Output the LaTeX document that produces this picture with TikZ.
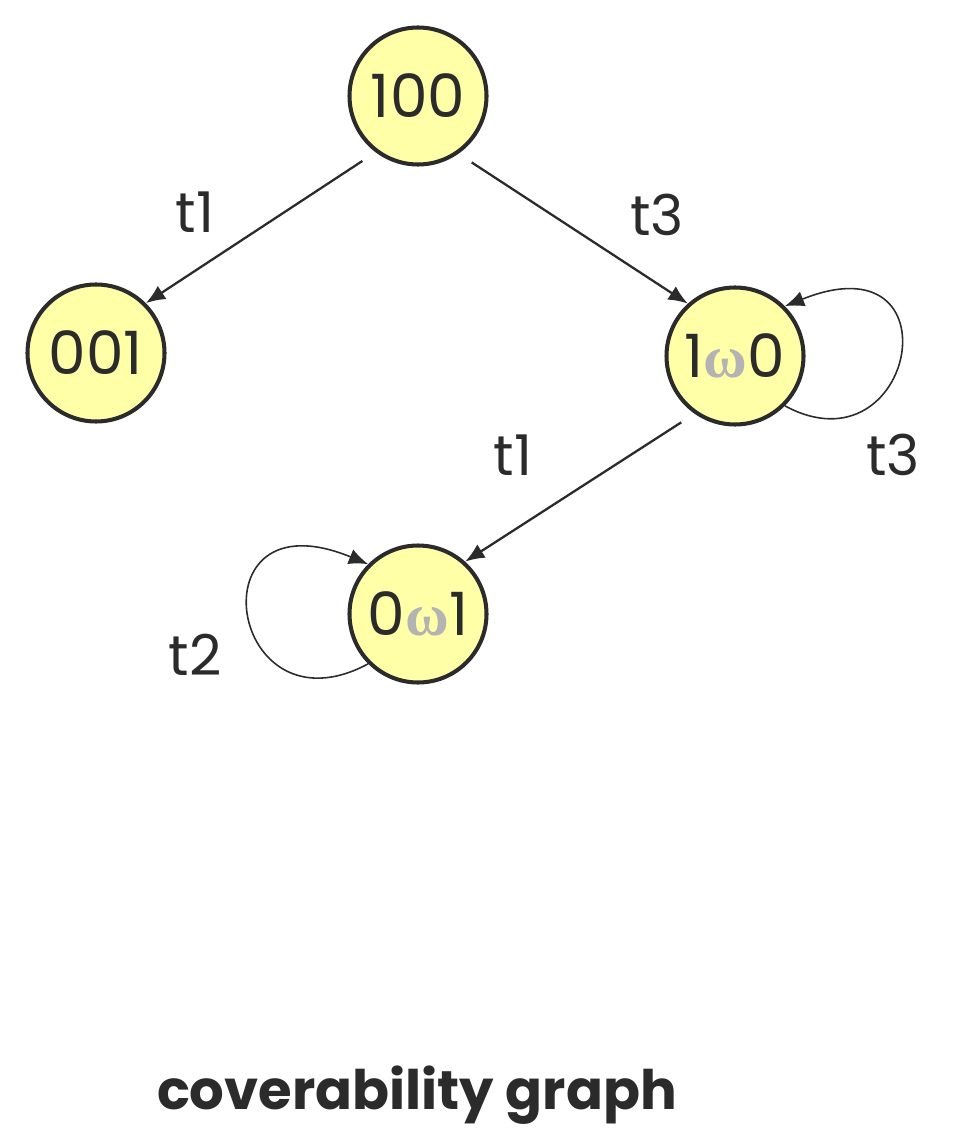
\documentclass[tikz,border=0pt]{standalone}
\usepackage{fontspec}
\usepackage{xcolor}
\usepackage{tikz}
\usetikzlibrary{arrows.meta,positioning,calc}
\setmainfont{Poppins}
\newfontfamily\omegafont{Liberation Serif}
\definecolor{statefill}{HTML}{FFFFA8}
\definecolor{inkgray}{HTML}{2B2B2B}
\definecolor{omegagray}{HTML}{B3B3B3}
\newcommand{\om}{{\omegafont\color{omegagray}\textbf{ω}}}

\begin{document}
\begin{tikzpicture}[
  state/.style={circle, draw=inkgray, line width=2.3pt, fill=statefill, minimum size=2.74cm, inner sep=0pt, text=inkgray, font=\fontsize{34}{40}\selectfont},
  arr/.style={-{Latex[length=11pt,width=9pt]}, line width=1.3pt, draw=inkgray, shorten <=9pt},
  selfarr/.style={-{Latex[length=11pt,width=9pt]}, line width=0.9pt, draw=inkgray},
  lbl/.style={text=inkgray, font=\fontsize{32}{38}\selectfont}
]
  \useasboundingbox (0,0) rectangle (19.16,-22.84);

  \node[state] (s100) at (8.36,-1.92) {100};
  \node[state] (s001) at (1.92,-7.06) {001};
  \node[state] (s1w0) at (14.70,-7.12) {1\om0};
  \node[state] (s0w1) at (8.36,-12.28) {0\om1};

  \draw[arr] (s100.233) -- (s001.45);
  \draw[arr] (s100.-55) -- (s1w0.132);
  \draw[arr] (s1w0.235) -- (s0w1.48);

  % self loops
  \draw[selfarr] (s1w0.-45) .. controls +(2.6,-1.4) and +(3.5,1.4) .. (s1w0.45);
  \draw[selfarr] (s0w1.-135) .. controls +(-2.8,-1.5) and +(-3.54,1.46) .. (s0w1.135);

  \node[lbl] (l1) at (3.9,-4.24) {t1};
  \node[lbl] (l2) at (13.14,-4.3) {t3};
  \node[lbl] (l3) at (10.26,-9.1) {t1};
  \node[lbl] (l4) at (17.86,-9.1) {t3};
  \node[lbl] (l5) at (3.9,-13.1) {t2};

  \node[text=inkgray, font=\fontsize{31}{36}\selectfont\bfseries] (title) at (8.34,-21.9) {coverability graph};
\end{tikzpicture}
\end{document}
